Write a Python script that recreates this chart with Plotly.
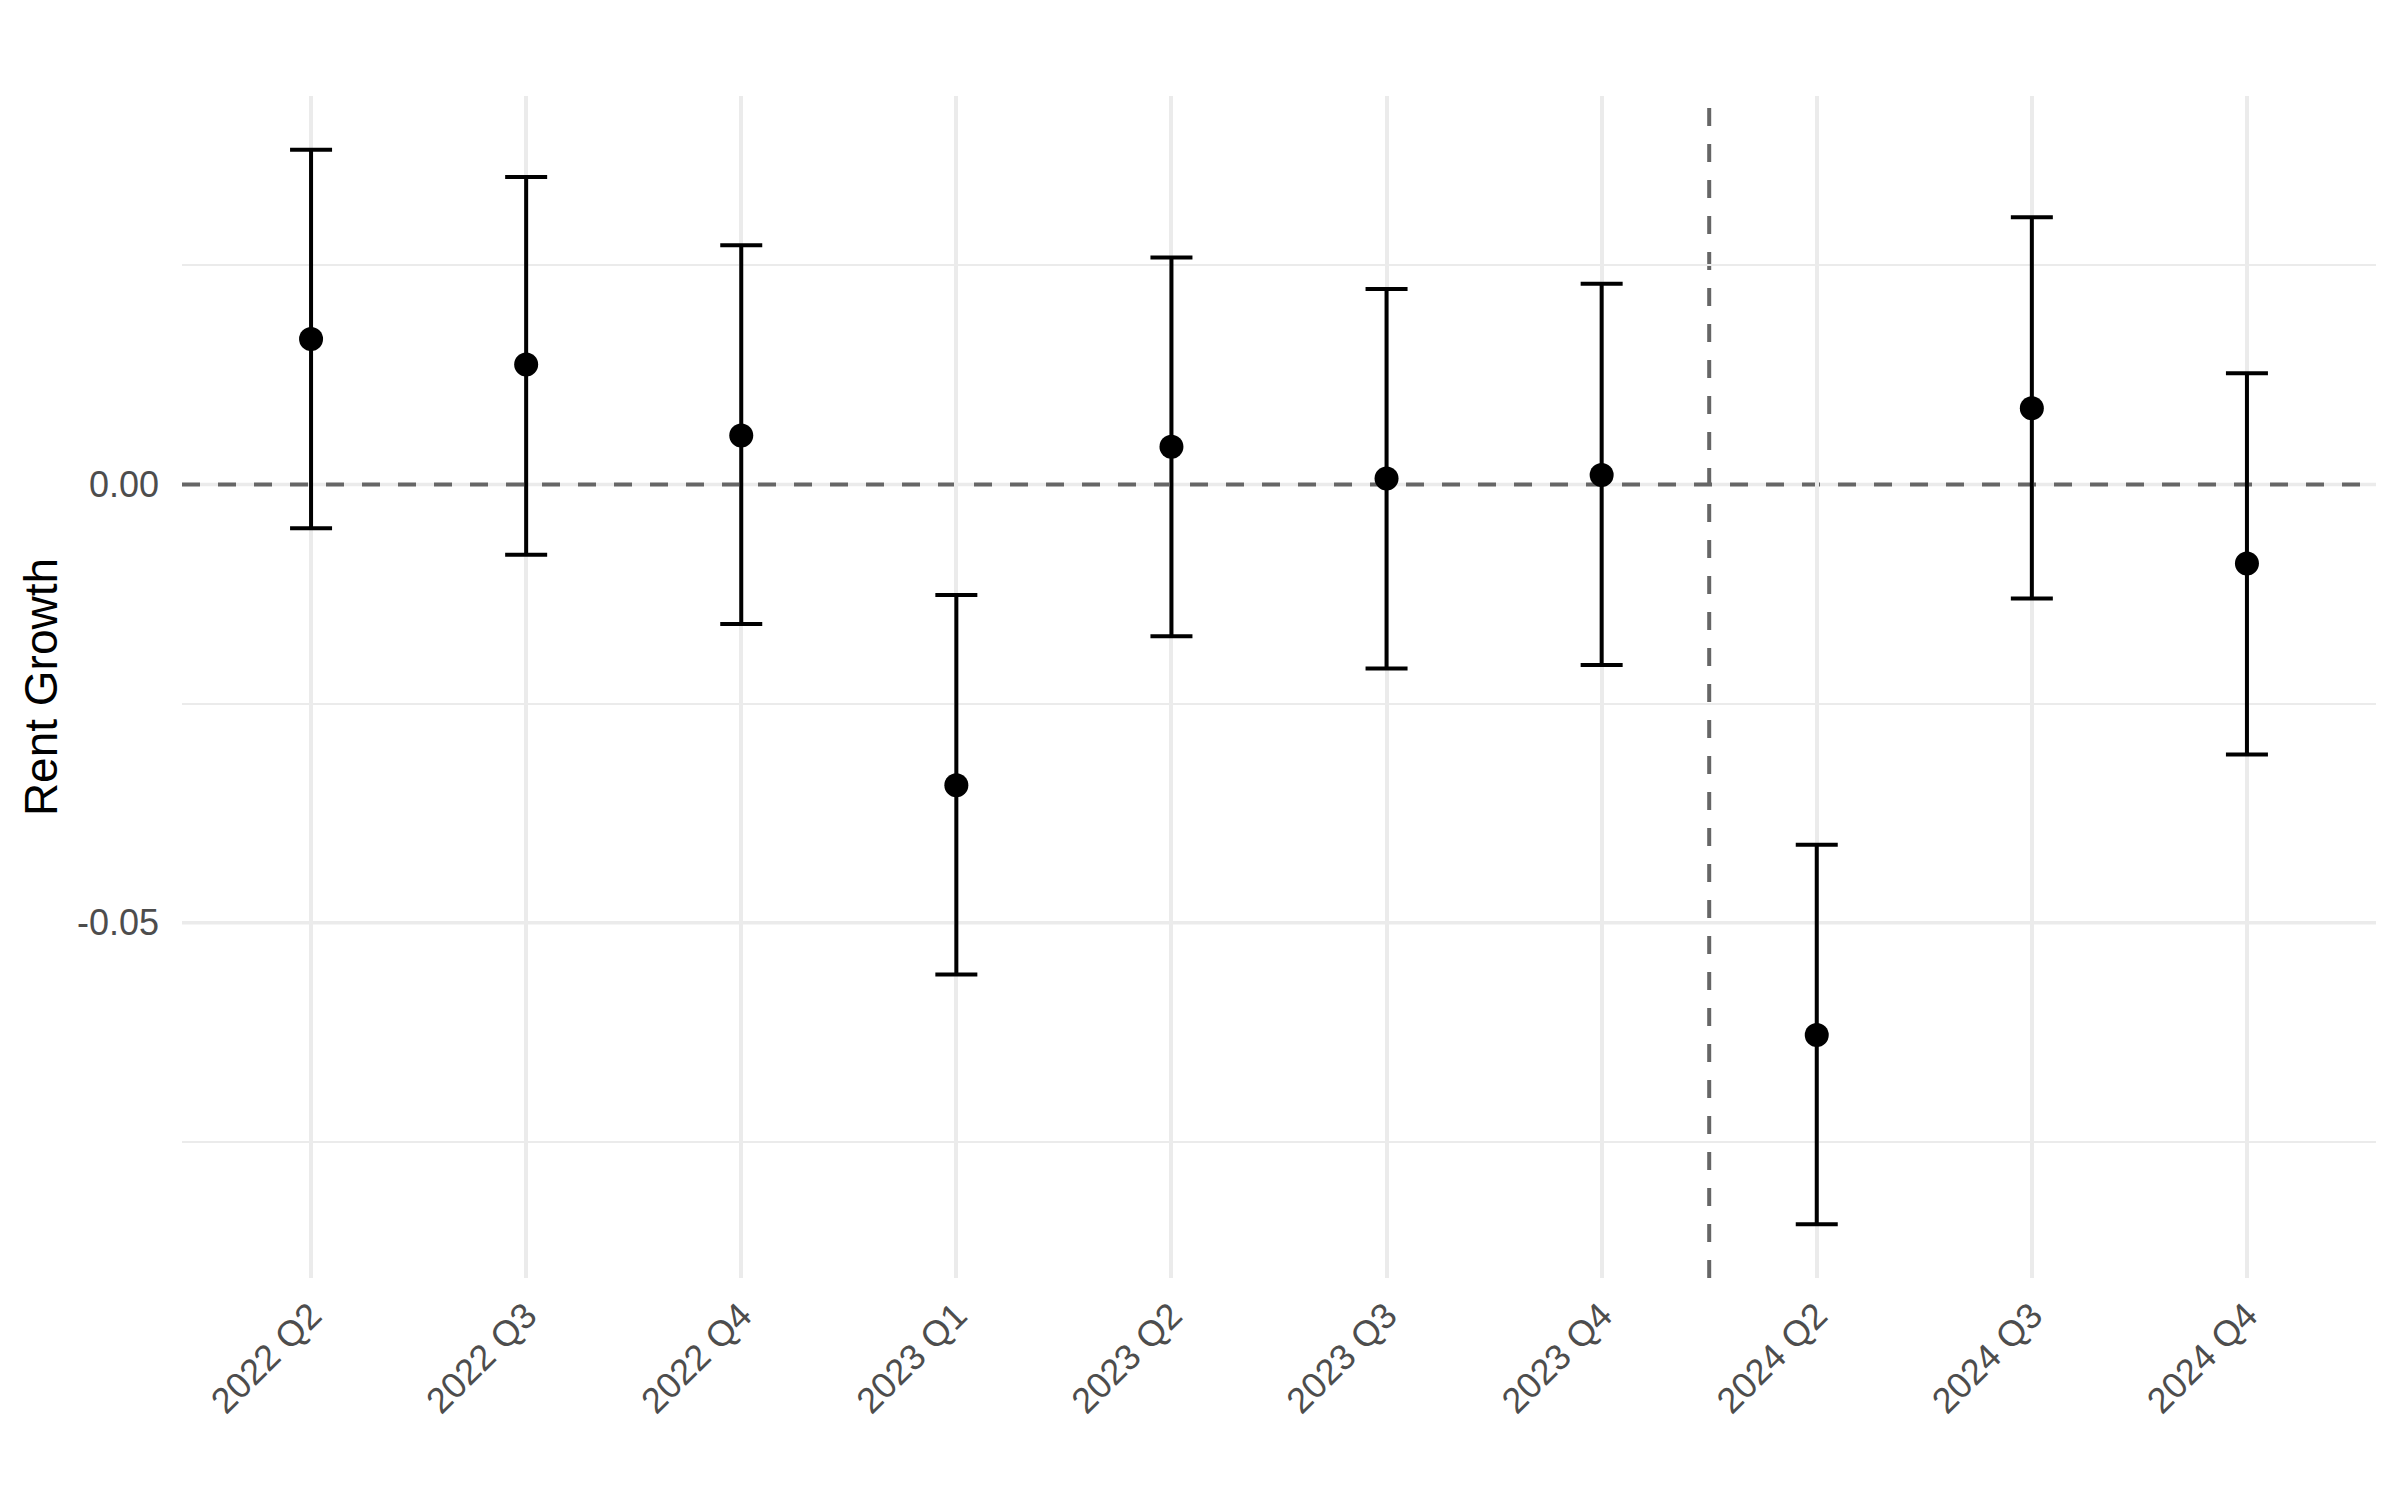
import plotly.graph_objects as go

# quarters (2024 Q1 is the omitted reference period)
quarters = ["2022 Q2", "2022 Q3", "2022 Q4", "2023 Q1", "2023 Q2",
            "2023 Q3", "2023 Q4", "2024 Q2", "2024 Q3", "2024 Q4"]
estimate = [0.0166, 0.0137, 0.0056, -0.0343, 0.0043,
            0.0007, 0.0011, -0.0628, 0.0087, -0.0090]
ci_upper = [0.0382, 0.0351, 0.0273, -0.0126, 0.0259,
            0.0223, 0.0229, -0.0411, 0.0305, 0.0127]
ci_lower = [-0.0050, -0.0080, -0.0159, -0.0559, -0.0173,
            -0.0210, -0.0206, -0.0844, -0.0130, -0.0308]

y_ticks = [-0.05, 0.00]
y_ticktext = ["-0.05", "0.00"]
y_minor = [-0.075, -0.025, 0.025]

grid = "#ebebeb"
font = "Liberation Sans, Arial, sans-serif"
dashed = dict(color="#666666", width=4, dash="18px,18px")

fig = go.Figure()
fig.add_trace(go.Scatter(
    x=quarters, y=estimate, mode="markers",
    marker=dict(color="black", size=24),
    error_y=dict(type="data", symmetric=False,
                 array=[u - e for u, e in zip(ci_upper, estimate)],
                 arrayminus=[e - l for e, l in zip(estimate, ci_lower)],
                 color="black", thickness=4, width=21),
    showlegend=False,
))

# major y gridlines drawn as shapes so the dashed reference lines sit on top of them
for v in y_ticks:
    fig.add_hline(y=v, line=dict(color=grid, width=3.5), layer="below")

# reference lines
fig.add_hline(y=0, line=dashed, layer="below")
fig.add_vline(x=6.5, line=dashed, layer="below")

lo, hi = min(ci_lower), max(ci_upper)
pad = (hi - lo) * 0.05

# the page body adds 8px on the top/left, margins are trimmed for that
fig.update_layout(
    width=2400, height=1500,
    margin=dict(l=174, r=32, t=88, b=230),
    plot_bgcolor="white", paper_bgcolor="white",
    font=dict(family=font),
    xaxis=dict(type="category", categoryorder="array", categoryarray=quarters,
               range=[-0.6, len(quarters) - 0.4], automargin=False,
               showgrid=True, gridcolor=grid, gridwidth=3.5,
               zeroline=False, showline=False, ticks="",
               tickangle=-45, ticklabelstandoff=8,
               tickfont=dict(size=36, color="#4d4d4d")),
    yaxis=dict(range=[lo - pad, hi + pad], automargin=False,
               tickmode="array", tickvals=y_ticks, ticktext=y_ticktext,
               showgrid=False,
               minor=dict(tickmode="array", tickvals=y_minor,
                          showgrid=True, gridcolor=grid, gridwidth=2),
               zeroline=False, showline=False, ticks="",
               ticklabelstandoff=22,
               tickfont=dict(size=36, color="#4d4d4d"),
               title=dict(text="Rent Growth", standoff=4,
                          font=dict(size=46, color="black"))),
)

fig.write_html("out.html")
